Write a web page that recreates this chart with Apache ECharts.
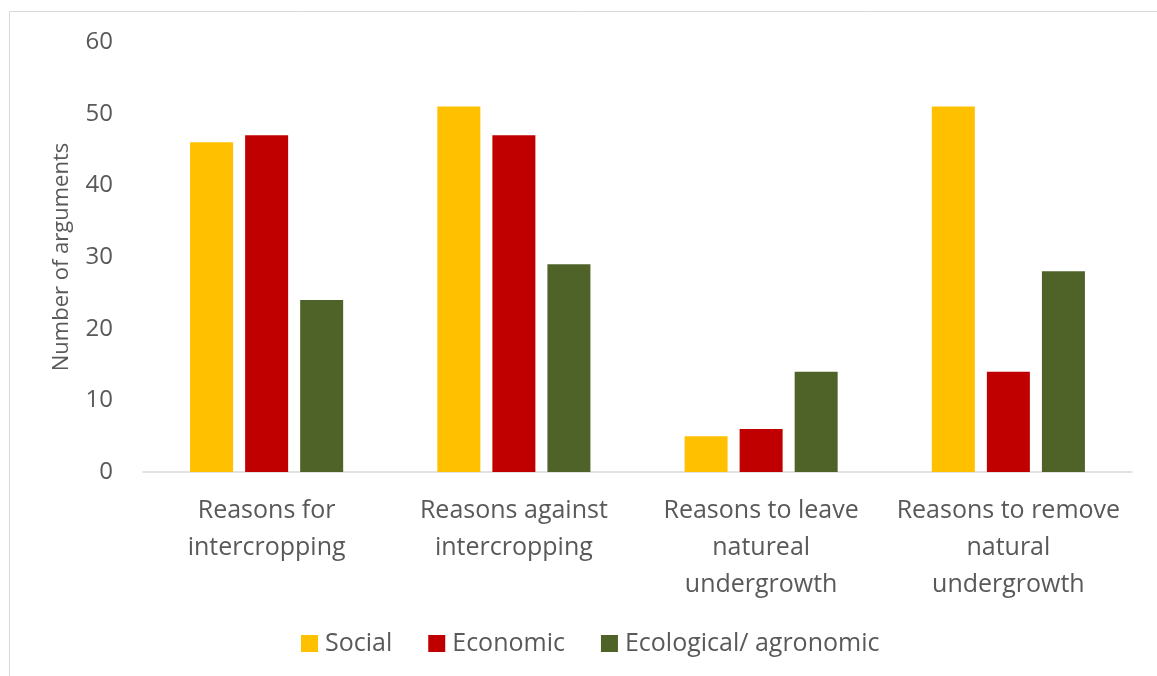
<!DOCTYPE html>
<html><head><meta charset="utf-8">
<script src="https://cdn.jsdelivr.net/npm/echarts@6/dist/echarts.min.js"></script>
<style>html,body{margin:0;padding:0;background:#fff}#c{width:1157px;height:676px}</style>
</head><body><div id="c"></div>
<script>
var categories = ["Reasons for\nintercropping", "Reasons against\nintercropping", "Reasons to leave\nnatureal\nundergrowth", "Reasons to remove\nnatural\nundergrowth"];
var social = [46, 51, 5, 51];
var economic = [47, 47, 6, 14];
var ecological = [24, 29, 14, 28];
var seriesNames = ["Social", "Economic", "Ecological/ agronomic"];
var colors = ["#FFC000", "#C00000", "#4F6228"];
var yTicks = {min: 0, max: 60, interval: 10};
var font = "Open Sans";
var chart = echarts.init(document.getElementById('c'));
chart.setOption({
  animation: false,
  textStyle: {fontFamily: font},
  graphic: [{type: 'rect', shape: {x: 9.5, y: 11.5, width: 1300, height: 800}, style: {fill: 'none', stroke: '#d9d9d9', lineWidth: 1}, silent: true}],
  grid: {left: 143, right: 25, top: 42, bottom: 204},
  legend: {left: 296, top: 626, itemWidth: 17, itemHeight: 17, itemGap: 36, icon: 'rect',
    textStyle: {fontFamily: font, fontSize: 25, color: '#595959', padding: [0, 0, 0, 2]}, data: seriesNames},
  xAxis: {type: 'category', data: categories,
    axisLine: {lineStyle: {color: '#d9d9d9', width: 1.5}}, axisTick: {show: false},
    axisLabel: {interval: 0, fontFamily: font, fontSize: 25, color: '#595959', lineHeight: 37, margin: 20}},
  yAxis: {type: 'value', min: yTicks.min, max: yTicks.max, interval: yTicks.interval,
    name: 'Number of arguments', nameLocation: 'middle', nameGap: 70, nameRotate: 90,
    nameTextStyle: {fontFamily: font, fontSize: 22, color: '#595959'},
    axisLine: {show: false}, axisTick: {show: false}, splitLine: {show: false},
    axisLabel: {fontFamily: font, fontSize: 24, color: '#595959', margin: 30}},
  series: [
    {name: seriesNames[0], type: 'bar', data: social, itemStyle: {color: colors[0]}, barWidth: 43, barGap: '28%'},
    {name: seriesNames[1], type: 'bar', data: economic, itemStyle: {color: colors[1]}, barWidth: 43, barGap: '28%'},
    {name: seriesNames[2], type: 'bar', data: ecological, itemStyle: {color: colors[2]}, barWidth: 43, barGap: '28%'}
  ]
});
</script></body></html>
